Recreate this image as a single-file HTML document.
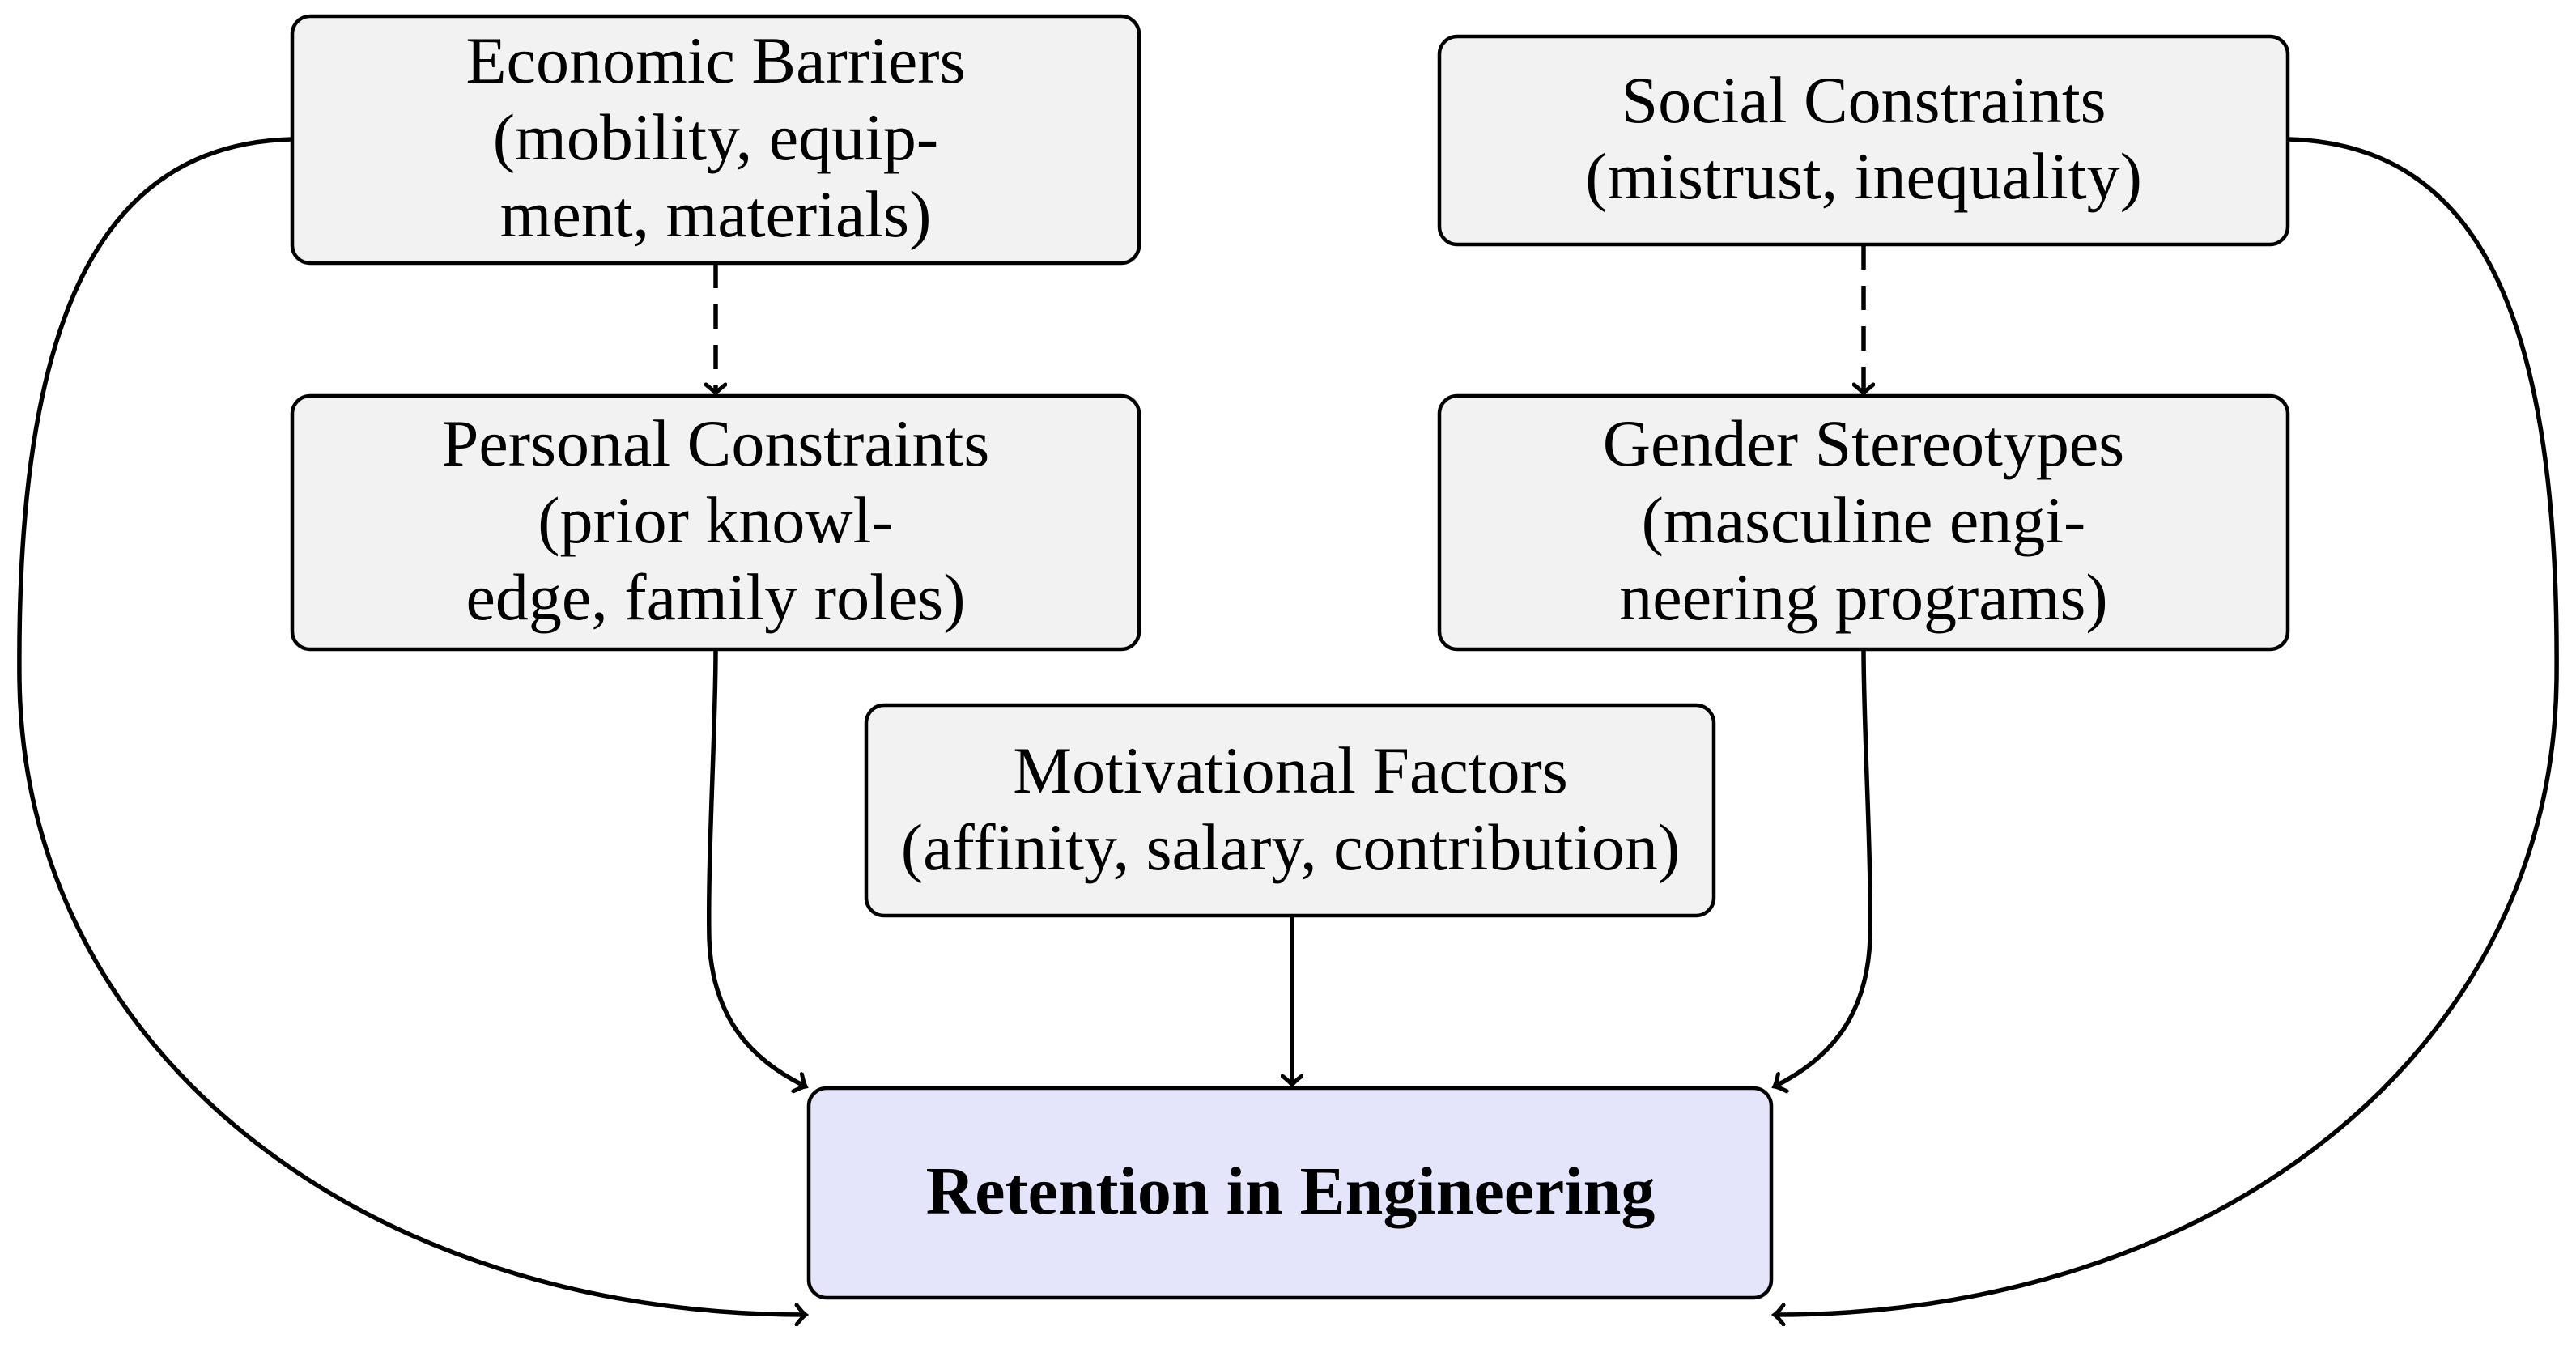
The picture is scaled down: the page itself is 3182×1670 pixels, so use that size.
<!DOCTYPE html>
<html><head><meta charset="utf-8"><style>html,body{margin:0;padding:0;background:#fff}svg{display:block}</style></head>
<body>
<svg width="3182" height="1670" viewBox="0 0 3182 1670" xmlns="http://www.w3.org/2000/svg">
<defs>
<marker id="a" viewBox="-14 -14 28 28" markerWidth="28" markerHeight="28" refX="0" refY="0" orient="auto" markerUnits="userSpaceOnUse">
<path d="M-11,-12 Q-4,-3 0,0 Q-4,3 -11,12" fill="none" stroke="#000" stroke-width="5" stroke-linecap="round"/>
</marker>
</defs>
<g fill="none" stroke="#000" stroke-width="5.5">
<path d="M884 326 L884 486" stroke-dasharray="30 20" marker-end="url(#a)"/>
<path d="M2302 303 L2302 486" stroke-dasharray="30 20" marker-end="url(#a)"/>
<path d="M884 803 C884 900 874 1060 876 1160 C880 1260 930 1310 995 1342" marker-end="url(#a)"/>
<path d="M2302 803 C2302 900 2312 1060 2310 1160 C2306 1260 2256 1310 2192 1342" marker-end="url(#a)"/>
<path d="M1596 1132 L1596 1340" marker-end="url(#a)"/>
<path d="M361 172 C120 178 20 400 24 840 C30 1300 450 1624 995 1624" marker-end="url(#a)"/>
<path d="M2826 172 C3067 178 3162 400 3158 840 C3152 1300 2737 1624 2192 1624" marker-end="url(#a)"/>
</g>
<g stroke="#000" stroke-width="4.5">
<rect x="361" y="20" width="1046" height="305" rx="22" fill="#f2f2f2"/>
<rect x="1778" y="45" width="1048" height="257" rx="22" fill="#f2f2f2"/>
<rect x="361" y="489" width="1046" height="313" rx="22" fill="#f2f2f2"/>
<rect x="1778" y="489" width="1048" height="313" rx="22" fill="#f2f2f2"/>
<rect x="1070" y="871" width="1047" height="260" rx="22" fill="#f2f2f2"/>
<rect x="999" y="1344" width="1189" height="259" rx="22" fill="#e4e4fb"/>
</g>
<g font-family="'Liberation Serif', serif" font-size="82" text-anchor="middle" fill="#000">
<text x="884" y="102">Economic Barriers</text>
<text x="884" y="197">(mobility, equip-</text>
<text x="884" y="292">ment, materials)</text>
<text x="2302" y="151">Social Constraints</text>
<text x="2302" y="245">(mistrust, inequality)</text>
<text x="884" y="575">Personal Constraints</text>
<text x="884" y="670">(prior knowl-</text>
<text x="884" y="765">edge, family roles)</text>
<text x="2302" y="575">Gender Stereotypes</text>
<text x="2302" y="670">(masculine engi-</text>
<text x="2302" y="765">neering programs)</text>
<text x="1594" y="979">Motivational Factors</text>
<text x="1594" y="1074">(affinity, salary, contribution)</text>
<text x="1594" y="1499" font-weight="bold" font-size="84">Retention in Engineering</text>
</g>
</svg>
</body></html>
